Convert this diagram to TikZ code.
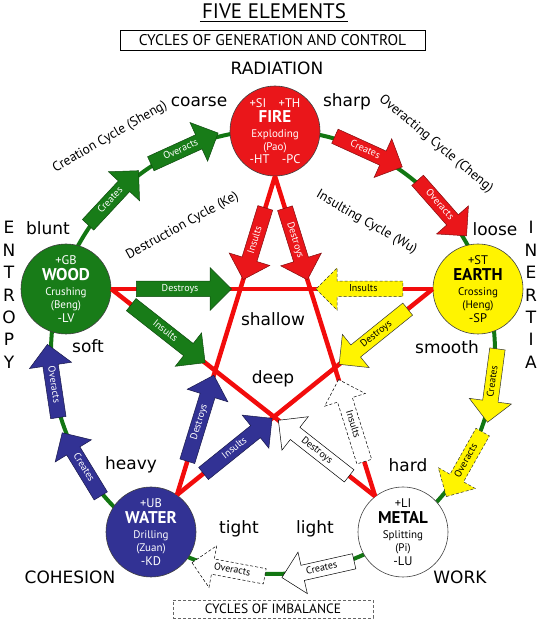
\documentclass[tikz,border=0pt]{standalone}
\usepackage{fontspec}
\setmainfont{DejaVu Sans}
\newfontfamily\gillfont{PT Sans}
\usetikzlibrary{shapes.arrows,calc}
\definecolor{firered}{RGB}{234,22,26}
\definecolor{starred}{RGB}{242,12,12}
\definecolor{woodgreen}{RGB}{24,124,24}
\definecolor{ringgreen}{RGB}{18,118,18}
\definecolor{earthyellow}{RGB}{255,244,0}
\definecolor{waterblue}{RGB}{50,50,148}
\newcommand\elname{\fontsize{17}{17}\selectfont\bfseries}
\newcommand\elsign{\fontsize{12.5}{13}\selectfont}

\tikzset{
  element/.style={circle, draw=black!75, line width=0.6pt, minimum size=90pt, inner sep=0pt, align=center, font=\gillfont\fontsize{11}{13}\selectfont},
  word/.style={inner sep=0pt, font=\fontsize{17}{22.4}\selectfont},
  cyclename/.style={inner sep=0pt, font=\gillfont\fontsize{13.5}{15}\selectfont},
  blk/.style={single arrow, single arrow head extend=13.5pt, inner xsep=2pt, inner ysep=3pt, text height=7pt, text depth=2pt, minimum height=74pt, line width=0.5pt, font=\gillfont\fontsize{10}{10}\selectfont},
  woodarrow/.style={blk, fill=woodgreen, draw=woodgreen!60!black, text=white},
  firearrow/.style={blk, fill=firered, draw=firered!55!black, text=white},
  eartharrow/.style={blk, fill=earthyellow, draw=black!80, text=black},
  waterarrow/.style={blk, fill=waterblue, draw=waterblue!50!black, text=white},
  metalarrow/.style={blk, fill=white, draw=black, text=black},
  imbalance/.style={dash pattern=on 3pt off 2pt},
  back/.style={shape border rotate=180},
  starline/.style={draw=starred, line width=4.5pt},
  ringline/.style={draw=ringgreen, line width=4pt},
}

\begin{document}
\begin{tikzpicture}[x=1pt, y=1pt]
\useasboundingbox (0,0) rectangle (540,620);

% Titles
\node[inner sep=0pt, font=\gillfont\fontsize{21}{21}\selectfont] (title) at (274,609) {FIVE ELEMENTS};
\draw[line width=1pt] ([xshift=-2pt,yshift=-3pt]title.south west) -- ([xshift=2pt,yshift=-3pt]title.south east);
\node[draw, line width=0.8pt, minimum width=305pt, minimum height=20pt, inner sep=0pt, font=\gillfont\fontsize{15.5}{15.5}\selectfont] (genbox) at (272.5,580) {CYCLES OF GENERATION AND CONTROL};
\node[draw=black!60, imbalance, line width=0.8pt, minimum width=200pt, minimum height=18pt, inner sep=0pt, font=\gillfont\fontsize{13.5}{13.5}\selectfont] (imbbox) at (273,11) {CYCLES OF IMBALANCE};

% Ring
\coordinate (ring) at (273,268);
\draw[ringline] (ring) circle[radius=222];

% Elements
\node[element, fill=firered, text=white] (fire) at (275,489) {{\elsign +SI\quad +TH}\\[2.5pt]{\elname FIRE}\\[2pt]Exploding\\(Pao)\\{\elsign -HT\quad -PC}};
\node[element, fill=woodgreen, text=white] (wood) at (66,331) {{\elsign +GB}\\[2.5pt]{\elname WOOD}\\[2pt]Crushing\\(Beng)\\[1pt]{\elsign -LV}};
\node[element, fill=earthyellow, text=black] (earth) at (478,331) {{\elsign +ST}\\[2.5pt]{\elname EARTH}\\[2pt]Crossing\\(Heng)\\[1pt]{\elsign -SP}};
\node[element, fill=waterblue, text=white] (water) at (151,88) {{\elsign +UB}\\[2.5pt]{\elname WATER}\\[2pt]Drilling\\(Zuan)\\[1pt]{\elsign -KD}};
\node[element, fill=white, text=black] (metal) at (403,88) {{\elsign +LI}\\[2.5pt]{\elname METAL}\\[2pt]Splitting\\(Pi)\\[1pt]{\elsign -LU}};

% Lines
\draw[starline] (wood.east) -- (earth.west);
\draw[starline] (fire.south) -- (water.55);
\draw[starline] (fire.south) -- (metal.128);
\draw[starline] (wood.east) -- (metal.128);
\draw[starline] (earth.west) -- (water.55);

% Star arrows
\path (wood.east) -- node[woodarrow, sloped, pos=.214, minimum height=95pt] (wooddestroys) {Destroys} node[eartharrow, imbalance, back, sloped, pos=.784, minimum height=87pt] (earthinsults) {Insults} (earth.west);
\path (fire.south) -- node[firearrow, back, sloped, pos=.2, minimum height=75pt] (fireinsults) {Insults} node[waterarrow, sloped, pos=.771, minimum height=90pt] (waterdestroys) {Destroys} (water.55);
\path (fire.south) -- node[firearrow, sloped, pos=.2, minimum height=75pt] (firedestroys) {Destroys} node[metalarrow, imbalance, back, sloped, pos=.775, minimum height=86pt] (metalinsults) {Insults} (metal.128);
\path (wood.east) -- node[woodarrow, sloped, pos=.204, minimum height=94pt] (woodinsults) {Insults} node[metalarrow, back, sloped, pos=.779, minimum height=90pt] (metaldestroys) {Destroys} (metal.128);
\path (earth.west) -- node[eartharrow, back, sloped, pos=.22, minimum height=88pt] (earthdestroys) {Destroys} node[waterarrow, sloped, pos=.774, minimum height=88pt] (waterinsults) {Insults} (water.55);

% Ring arrows
\node[woodarrow, rotate=47] (woodcreates) at ($(ring)+(137:222)$) {Creates};
\node[woodarrow, rotate=24.5] (woodoveracts) at ($(ring)+(114.5:222)$) {Overacts};
\node[firearrow, rotate=-24.5] (firecreates) at ($(ring)+(65.5:222)$) {Creates};
\node[firearrow, rotate=-48.6] (fireoveracts) at ($(ring)+(41.4:222)$) {Overacts};
\node[eartharrow, back, rotate=82.3] (earthcreates) at ($(ring)+(-7.7:222)$) {Creates};
\node[eartharrow, imbalance, back, rotate=60.6] (earthoveracts) at ($(ring)+(-29.4:222)$) {Overacts};
\node[metalarrow, back, rotate=12.7] (metalcreates) at ($(ring)+(-77.3:222)$) {Creates};
\node[metalarrow, imbalance, back, rotate=-10.6] (metaloveracts) at ($(ring)+(-100.6:222)$) {Overacts};
\node[waterarrow, back, rotate=-58.6] (watercreates) at ($(ring)+(211.4:222)$) {Creates};
\node[waterarrow, back, rotate=-81.5] (wateroveracts) at ($(ring)+(188.5:222)$) {Overacts};

% Cycle names
\node[cyclename, rotate=30] (sheng) at (110,483) {Creation Cycle (Sheng)};
\node[cyclename, rotate=-40] (cheng) at (436,476) {Overacting Cycle (Cheng)};
\node[cyclename, rotate=29] (ke) at (182.5,394) {Destruction Cycle (Ke)};
\node[cyclename, rotate=-30] (wu) at (366.5,397.5) {Insulting Cycle (Wu)};

% Words
\node[word] (radiation) at (277,552) {RADIATION};
\node[word] (coarse) at (199,518) {coarse};
\node[word] (sharp) at (347,518) {sharp};
\node[word] (blunt) at (48,392) {blunt};
\node[word] (loose) at (495,391) {loose};
\node[word] (soft) at (88,274) {soft};
\node[word] (smooth) at (447,273) {smooth};
\node[word] (shallow) at (273,301) {shallow};
\node[word] (deep) at (273,241) {deep};
\node[word] (heavy) at (131,155) {heavy};
\node[word] (hard) at (408,155) {hard};
\node[word] (tight) at (239,91) {tight};
\node[word] (light) at (315,91) {light};
\node[word] (cohesion) at (70,43) {COHESION};
\node[word] (work) at (460,43) {WORK};
\node[word, align=center] (entropy) at (9,325) {E\\N\\T\\R\\O\\P\\Y};
\node[word, align=center] (inertia) at (531,325) {I\\N\\E\\R\\T\\I\\A};
\end{tikzpicture}
\end{document}
